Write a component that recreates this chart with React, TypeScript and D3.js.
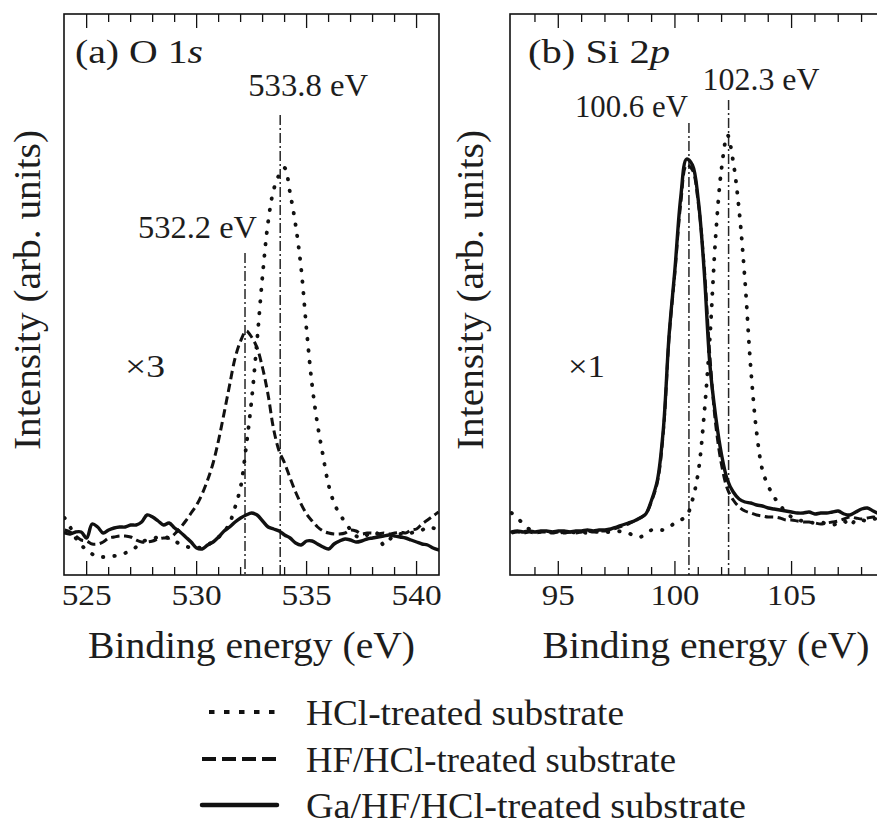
import React from 'react';
import * as d3 from 'd3';

// ---- O 1s spectra (binding energy in eV, intensity in arb. units, x3) ----
const O1S_ENERGY = [
  524.0, 524.25, 524.5, 524.75, 525.0, 525.25, 525.5, 525.75, 526.0, 526.25,
  526.5, 526.75, 527.0, 527.25, 527.5, 527.75, 528.0, 528.25, 528.5, 528.75,
  529.0, 529.25, 529.5, 529.75, 530.0, 530.25, 530.5, 530.75, 531.0, 531.25,
  531.5, 531.75, 532.0, 532.25, 532.5, 532.75, 533.0, 533.25, 533.5, 533.75,
  534.0, 534.25, 534.5, 534.75, 535.0, 535.25, 535.5, 535.75, 536.0, 536.25,
  536.5, 536.75, 537.0, 537.25, 537.5, 537.75, 538.0, 538.25, 538.5, 538.75,
  539.0, 539.25, 539.5, 539.75, 540.0, 540.25, 540.5, 540.75, 541.0,
];
const O1S_HCL = [
  57, 48, 37, 30, 25, 21, 18, 18, 18, 19,
  20, 22, 24, 28, 33, 35, 36, 38, 38, 37,
  34, 31, 29, 27, 27, 28, 30, 34, 38, 43,
  52, 68, 88, 128, 175, 235, 300, 353, 385, 400,
  407, 382, 350, 307, 245, 190, 150, 119, 90, 72,
  61, 53, 45, 39, 37, 40, 43, 41, 30, 35,
  40, 41, 41, 42, 44, 45, 48, 47, 45,
];
const O1S_HF_HCL = [
  45, 43, 39, 35, 34, 31, 31, 33, 37, 38,
  39, 39, 38, 35, 33, 33, 34, 36, 37, 37,
  41, 47, 54, 62, 70, 81, 95, 112, 135, 162,
  190, 217, 234, 244, 238, 227, 207, 180, 146, 124,
  112, 97, 83, 71, 61, 54, 48, 44, 42, 41,
  41, 42, 45, 44, 41, 42, 42, 41, 42, 41,
  42, 43, 42, 45, 46, 51, 55, 59, 63,
];
const O1S_GA = [
  42, 41, 43, 43, 37, 51, 48, 42, 45, 47,
  48, 48, 50, 50, 53, 60, 58, 54, 50, 52,
  47, 43, 38, 33, 27, 26, 30, 33, 38, 44,
  48, 53, 57, 60, 62, 60, 54, 48, 46, 44,
  40, 37, 32, 30, 34, 34, 31, 28, 26, 31,
  34, 36, 35, 33, 34, 36, 37, 38, 39, 40,
  39, 38, 37, 35, 33, 31, 30, 27, 25,
];

// ---- Si 2p spectra (binding energy in eV, intensity in arb. units, x1) ----
const SI2P_ENERGY = [
  93.0, 93.25, 93.5, 93.75, 94.0, 94.25, 94.5, 94.75, 95.0, 95.25,
  95.5, 95.75, 96.0, 96.25, 96.5, 96.75, 97.0, 97.25, 97.5, 97.75,
  98.0, 98.25, 98.5, 98.75, 99.0, 99.25, 99.5, 99.75, 100.0, 100.25,
  100.5, 100.75, 101.0, 101.25, 101.5, 101.75, 102.0, 102.25, 102.5, 102.75,
  103.0, 103.25, 103.5, 103.75, 104.0, 104.25, 104.5, 104.75, 105.0, 105.25,
  105.5, 105.75, 106.0, 106.25, 106.5, 106.75, 107.0, 107.25, 107.5, 107.75,
  108.0, 108.25, 108.5, 108.75,
];
const SI2P_HCL = [
  62, 57, 51, 46, 44, 43, 42, 43, 42, 43,
  42, 43, 43, 42, 43, 43, 43, 43, 44, 43,
  42, 39, 38, 41, 45, 46, 45, 48, 52, 55,
  59, 75, 103, 160, 238, 340, 407, 440, 413, 365,
  295, 207, 143, 105, 89, 78, 70, 63, 58, 55,
  54, 53, 52, 53, 51, 50, 52, 54, 49, 55,
  55, 54, 56, 56,
];
const SI2P_HF_HCL = [
  42, 43, 42, 43, 42, 43, 43, 42, 43, 42,
  43, 42, 43, 44, 43, 44, 44, 45, 47, 49,
  51, 54, 57, 61, 74, 93, 142, 238, 303, 372,
  410, 405, 372, 310, 218, 150, 110, 86, 75, 68,
  64, 62, 60, 59, 58, 58, 57, 55, 55, 54,
  53, 53, 52, 51, 52, 53, 54, 56, 58, 57,
  56, 57, 58, 57,
];
const SI2P_GA = [
  43, 44, 43, 44, 43, 44, 44, 43, 44, 44,
  43, 44, 44, 45, 44, 45, 45, 46, 48, 50,
  52, 54, 57, 61, 75, 95, 145, 240, 306, 378,
  416, 410, 375, 305, 210, 158, 120, 95, 83, 76,
  73, 72, 70, 69, 67, 66, 65, 64, 63, 62,
  62, 63, 61, 62, 62, 63, 64, 61, 60, 63,
  66, 67, 64, 61,
];

const O1S_PEAKS = [532.2, 533.8];
const SI2P_PEAKS = [100.6, 102.3];
const O1S_TICK_LABELS = [525, 530, 535, 540];
const SI2P_TICK_LABELS = [95, 100, 105];
const LEGEND_LABELS = [
  'HCl-treated substrate',
  'HF/HCl-treated substrate',
  'Ga/HF/HCl-treated substrate',
];

const W = 877;
const H = 826;
const TOP = 14;
const BOTTOM = 575;
const FONT = "'Liberation Serif','Times New Roman',Times,serif";
const INK = '#1d1d1d';

type Style = { width: number; dash: string | undefined; cap: 'round' | 'butt' };
const STYLES: Style[] = [
  { width: 3.8, dash: '0.5 11', cap: 'round' },
  { width: 3.0, dash: '8.5 4.5', cap: 'butt' },
  { width: 3.4, dash: undefined, cap: 'round' },
];
const LEGEND_STYLES: Style[] = [
  { width: 4, dash: '5.5 9.5', cap: 'butt' },
  { width: 4, dash: '14 6', cap: 'butt' },
  { width: 4.5, dash: undefined, cap: 'round' },
];

const y = d3.scaleLinear().domain([0, 561]).range([BOTTOM, TOP]);

type PeakLabel = { value: number; top: number; dx: number; baseline: number; len: number };

type PanelProps = {
  id: string;
  x: d3.ScaleLinear<number, number>;
  energies: number[];
  series: number[][];
  tickLabels: number[];
  tickLens: { [k: string]: number };
  peaks: PeakLabel[];
  title: React.ReactNode;
  titleX: number;
  titleLen: number;
  factor: string;
  factorX: number;
  factorLen: number;
  yTitleX: number;
  xTitleX: number;
};

function Panel(p: PanelProps) {
  const [d0, d1] = p.x.domain();
  const [r0, r1] = p.x.range();
  const minor = d3.range(Math.ceil(d0), Math.floor(d1) + 1).filter(
    (v) => p.x(v) > r0 + 3 && p.x(v) < r1 - 3
  );
  const line = d3
    .line<number>()
    .x((_, i) => p.x(p.energies[i]))
    .y((d) => y(d))
    .curve(d3.curveCatmullRom.alpha(0.5));

  return (
    <g>
      <defs>
        <clipPath id={p.id}>
          <rect x={r0} y={TOP} width={r1 - r0} height={BOTTOM - TOP} />
        </clipPath>
      </defs>

      {/* peak position markers */}
      {p.peaks.map((pk) => (
        <line
          key={'pk' + pk.value}
          x1={p.x(pk.value)}
          x2={p.x(pk.value)}
          y1={pk.top}
          y2={BOTTOM}
          stroke="#262626"
          strokeWidth={1.5}
          strokeDasharray="10 3 2 3"
        />
      ))}

      <g clipPath={`url(#${p.id})`}>
        {p.series.map((s, i) => (
          <path
            key={i}
            d={line(s) || ''}
            fill="none"
            stroke="#111"
            strokeWidth={STYLES[i].width}
            strokeDasharray={STYLES[i].dash}
            strokeLinecap={STYLES[i].cap}
            strokeLinejoin="round"
          />
        ))}
      </g>

      {/* frame */}
      <rect x={r0} y={TOP} width={r1 - r0} height={BOTTOM - TOP} fill="none" stroke="#111" strokeWidth={1.6} />

      {/* ticks, top and bottom, pointing inward */}
      {minor.map((v) => {
        const major = v % 5 === 0;
        const len = major ? 14 : 8;
        return (
          <g key={'t' + v} stroke="#111" strokeWidth={1.3}>
            <line x1={p.x(v)} x2={p.x(v)} y1={BOTTOM} y2={BOTTOM - len} />
            <line x1={p.x(v)} x2={p.x(v)} y1={TOP} y2={TOP + len} />
          </g>
        );
      })}

      {p.tickLabels.map((v) => (
        <text
          key={'tl' + v}
          x={p.x(v)}
          y={605}
          textAnchor="middle"
          fontSize={30}
          fontFamily={FONT}
          fill={INK}
          textLength={p.tickLens[String(v).length]}
          lengthAdjust="spacingAndGlyphs"
        >
          {v}
        </text>
      ))}

      {p.peaks.map((pk) => (
        <text
          key={'pl' + pk.value}
          x={p.x(pk.value) + pk.dx}
          y={pk.baseline}
          fontSize={32}
          fontFamily={FONT}
          fill={INK}
          textLength={pk.len}
          lengthAdjust="spacingAndGlyphs"
        >
          {pk.value.toFixed(1)} eV
        </text>
      ))}

      <text
        x={p.titleX}
        y={63}
        fontSize={34}
        fontFamily={FONT}
        fill={INK}
        textLength={p.titleLen}
        lengthAdjust="spacingAndGlyphs"
      >
        {p.title}
      </text>

      <text
        x={p.factorX}
        y={377}
        fontSize={32}
        fontFamily={FONT}
        fill={INK}
        textLength={p.factorLen}
        lengthAdjust="spacingAndGlyphs"
      >
        {p.factor}
      </text>

      <text
        x={p.xTitleX}
        y={658}
        textAnchor="middle"
        fontSize={37}
        fontFamily={FONT}
        fill={INK}
        textLength={327}
        lengthAdjust="spacingAndGlyphs"
      >
        Binding energy (eV)
      </text>

      <text
        transform={`translate(${p.yTitleX},290) rotate(-90)`}
        textAnchor="middle"
        fontSize={37}
        fontFamily={FONT}
        fill={INK}
        textLength={320}
        lengthAdjust="spacingAndGlyphs"
      >
        Intensity (arb. units)
      </text>
    </g>
  );
}

export default function App() {
  const xA = d3.scaleLinear().domain([523.97, 541.02]).range([64, 439]);
  const xB = d3.scaleLinear().domain([92.93, 109]).range([510, 884.9]);

  const legendLine = d3.line<number>().x((d) => d).y(0);

  return (
    <svg
      width={W}
      height={H}
      viewBox={`0 0 ${W} ${H}`}
      style={{ position: 'absolute', left: 0, top: 0, background: '#fff' }}
    >
      <rect x={0} y={0} width={W} height={H} fill="#fff" />

      <Panel
        id="clip-o1s"
        x={xA}
        energies={O1S_ENERGY}
        series={[O1S_HCL, O1S_HF_HCL, O1S_GA]}
        tickLabels={O1S_TICK_LABELS}
        tickLens={{ '3': 50 }}
        peaks={[
          { value: O1S_PEAKS[0], top: 253, dx: -107, baseline: 238, len: 119 },
          { value: O1S_PEAKS[1], top: 115, dx: -32, baseline: 96, len: 120 },
        ]}
        title={
          <>
            <tspan>(a) O 1</tspan>
            <tspan fontStyle="italic">s</tspan>
          </>
        }
        titleX={75}
        titleLen={128}
        factor="×3"
        factorX={125}
        factorLen={40}
        yTitleX={40}
        xTitleX={251.5}
      />

      <Panel
        id="clip-si2p"
        x={xB}
        energies={SI2P_ENERGY}
        series={[SI2P_HCL, SI2P_HF_HCL, SI2P_GA]}
        tickLabels={SI2P_TICK_LABELS}
        tickLens={{ '2': 33, '3': 49 }}
        peaks={[
          { value: SI2P_PEAKS[0], top: 123, dx: -114, baseline: 117, len: 113 },
          { value: SI2P_PEAKS[1], top: 100, dx: -26, baseline: 90, len: 117 },
        ]}
        title={
          <>
            <tspan>(b) Si 2</tspan>
            <tspan fontStyle="italic">p</tspan>
          </>
        }
        titleX={528}
        titleLen={142}
        factor="×1"
        factorX={568}
        factorLen={37}
        yTitleX={483}
        xTitleX={706}
      />

      {/* legend */}
      {LEGEND_LABELS.map((label, i) => {
        const cy = [712, 759, 805][i];
        const st = LEGEND_STYLES[i];
        return (
          <g key={label}>
            <path
              transform={`translate(0,${cy})`}
              d={legendLine(i === 0 ? [209, 277] : [202, 277]) || ''}
              stroke="#111"
              strokeWidth={st.width}
              strokeDasharray={st.dash}
              strokeLinecap={st.cap}
              fill="none"
            />
            <text
              x={306}
              y={cy + 13}
              fontSize={36}
              fontFamily={FONT}
              fill={INK}
              textLength={[318, 370, 440][i]}
              lengthAdjust="spacingAndGlyphs"
            >
              {label}
            </text>
          </g>
        );
      })}
    </svg>
  );
}
